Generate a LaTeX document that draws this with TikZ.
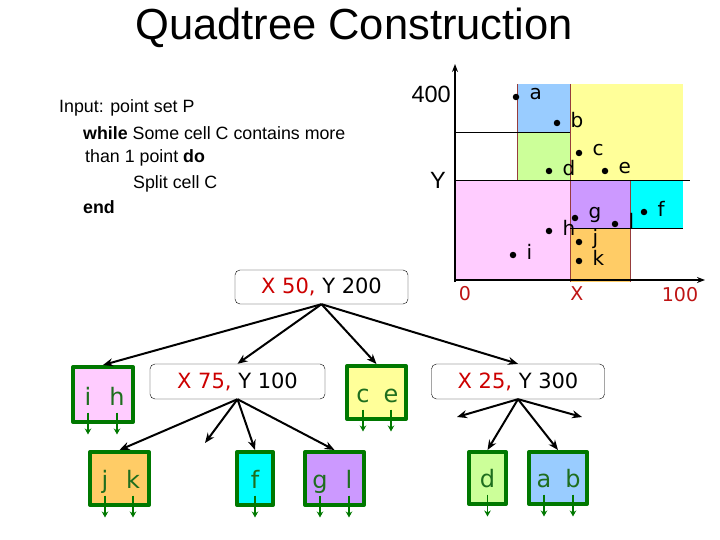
\documentclass[tikz,border=0pt]{standalone}
\usepackage{fontspec}
\setmainfont{Liberation Sans}
\newfontfamily\verd{DejaVu Sans}
\usetikzlibrary{arrows.meta,positioning}

\definecolor{cellblue}{HTML}{99CCFF}
\definecolor{cellgreen}{HTML}{CCFF99}
\definecolor{cellyellow}{HTML}{FFFF99}
\definecolor{cellpink}{HTML}{FFCCFF}
\definecolor{cellpurple}{HTML}{CC99FF}
\definecolor{cellcyan}{HTML}{00FFFF}
\definecolor{cellorange}{HTML}{FFCC66}
\definecolor{cellline}{RGB}{150,60,60}
\definecolor{splitred}{RGB}{204,0,0}
\definecolor{axisred}{RGB}{190,20,20}
\definecolor{leafgreen}{RGB}{0,120,0}
\definecolor{lettergreen}{RGB}{30,110,30}

\begin{document}
\begin{tikzpicture}[x=1pt, y=-1pt, line join=round,
    pt/.style={circle, fill, inner sep=0pt, minimum size=6.5pt},
    ptlbl/.style={font=\verd\fontsize{20}{23}\selectfont, inner sep=0pt},
    axlbl/.style={font=\verd\fontsize{19}{22}\selectfont, text=axisred},
    split/.style={draw, thin, rounded corners=5pt, minimum width=173pt, minimum height=34pt,
      inner sep=0pt, font=\verd\fontsize{21}{25}\selectfont},
    leaf/.style={draw=leafgreen, line width=4pt, minimum width=59pt, minimum height=53pt, inner sep=0pt},
    ltr/.style={text=lettergreen, font=\verd\fontsize{24}{28}\selectfont, inner sep=0pt, anchor=base},
    edge/.style={-{Stealth[length=10pt,width=8pt]}, line width=2pt},
    stub/.style={-{Stealth[length=6pt,width=6.5pt]}, leafgreen, line width=1.8pt},
    code/.style={anchor=base west, inner sep=0pt, font=\fontsize{17.8}{21}\selectfont}]

  \useasboundingbox (0,0) rectangle (720,540);

  \node (title) at (354,28) {\fontsize{43.5}{50}\selectfont Quadtree Construction};

  % pseudo code
  \node[code] (l1) at (59,113) {Input: point set P};
  \node[code] (l2) at (83,140) {\textbf{while} Some cell C contains more};
  \node[code] (l3) at (85,163) {than 1 point \textbf{do}};
  \node[code] (l4) at (133,189) {Split cell C};
  \node[code] (l5) at (83,214) {\textbf{end}};

  % cells
  \fill[cellblue] (517,84) rectangle (570,132);
  \fill[cellgreen] (517,132) rectangle (570,180);
  \fill[cellyellow] (570,84) rectangle (683,180);
  \fill[cellpink] (455,180) rectangle (570,280);
  \fill[cellpurple] (570,180) rectangle (630,228);
  \fill[cellcyan] (630,180) rectangle (683,228);
  \fill[cellorange] (570,228) rectangle (630,282);
  \draw[cellline, thin] (517,84) -- (517,180) (570,84) -- (570,282) (630,180) -- (630,282);
  \draw[thin] (455,132) -- (570,132) (455,180) -- (690,180) (570,228) -- (683,228);

  % axes
  \draw[-{Stealth[length=8pt,width=6pt]}, line width=1.8pt] (455,282) -- (455,64);
  \draw[-{Stealth[length=8pt,width=6pt]}, line width=1.8pt] (455,280) -- (705,280);
  \node[anchor=east, inner sep=0pt, font=\fontsize{23.5}{26}\selectfont] (ymax) at (451,94) {400};
  \node[font=\fontsize{23.5}{26}\selectfont] (ylbl) at (438,180) {Y};
  \node[axlbl] (x0) at (465,294) {0};
  \node[axlbl] (xlbl) at (577,294) {X};
  \node[axlbl] (xmax) at (680,295) {100};

  \foreach \p/\x/\y in {a/516/97, b/557/123, c/579/153, d/549/171, e/605/171, f/644/212,
      g/575/218, l/615/224, h/549/231, j/579/242, k/579/261, i/513/255} {
    \node[pt] (\p) at (\x,\y) {};
    \node[ptlbl, right=10pt of \p, yshift=3pt] (\p lbl) {\p};
  }

  % tree
  \node[split] (root) at (321.5,287) {\textcolor{splitred}{X 50,} Y 200};
  \node[split, minimum width=175pt, minimum height=35pt] (sx) at (237.5,381.5) {\textcolor{splitred}{X 75,} Y 100};
  \node[split, minimum height=35pt] (sy) at (518,381.5) {\textcolor{splitred}{X 25,} Y 300};

  \node[leaf, fill=cellpink, minimum width=60pt, minimum height=55pt] (ih) at (103,394.5) {};
  \node[leaf, fill=cellyellow] (ce) at (376.5,392.5) {};
  \node[leaf, fill=cellorange] (jk) at (119.5,478.5) {};
  \node[leaf, fill=cellcyan, minimum width=36pt] (fl) at (255,478.5) {};
  \node[leaf, fill=cellgreen, minimum width=37pt, minimum height=52pt] (dl) at (487.5,478) {};
  \node[leaf, fill=cellpurple] (gl) at (334.5,478.5) {};
  \node[leaf, fill=cellblue, minimum width=58pt, minimum height=52pt] (ab) at (558,478) {};

  \node[ltr] (ti) at ([xshift=-15pt, yshift=-10.5pt]ih.center) {i};
  \node[ltr] (th) at ([xshift=14pt, yshift=-10.5pt]ih.center) {h};
  \node[ltr] (tc) at ([xshift=-13.5pt, yshift=-9.5pt]ce.center) {c};
  \node[ltr] (te) at ([xshift=14.5pt, yshift=-9.5pt]ce.center) {e};
  \node[ltr] (tj) at ([xshift=-14.5pt, yshift=-9.5pt]jk.center) {j};
  \node[ltr] (tk) at ([xshift=13.5pt, yshift=-9.5pt]jk.center) {k};
  \node[ltr] (tf) at ([yshift=-9.5pt]fl.center) {f};
  \node[ltr] (tg) at ([xshift=-14.5pt, yshift=-9.5pt]gl.center) {g};
  \node[ltr] (tl) at ([xshift=14.5pt, yshift=-9.5pt]gl.center) {l};
  \node[ltr] (td) at ([yshift=-9pt]dl.center) {d};
  \node[ltr] (ta) at ([xshift=-14pt, yshift=-9pt]ab.center) {a};
  \node[ltr] (tb) at ([xshift=15pt, yshift=-9pt]ab.center) {b};

  \foreach \t in {ti,th,tc,te,tj,tk,tf,tg,tl,td,ta,tb}
    \draw[stub] ([yshift=-7.5pt]\t.base) -- ++(0,22);

  \coordinate (sxe) at (205,443);
  \coordinate (sye1) at (457,417);
  \coordinate (sye2) at (582,417);

  \draw[edge] (root.south) -- (ih.north);
  \draw[edge] (root.south) -- (sx.north);
  \draw[edge] (root.south) -- (ce.north);
  \draw[edge] (root.south) -- (sy.north);
  \draw[edge] (sx.south) -- (jk.north);
  \draw[edge] (sx.south) -- (sxe);
  \draw[edge] (sx.south) -- (fl.north);
  \draw[edge] (sx.south) -- (gl.north);
  \draw[edge] (sy.south) -- (sye1);
  \draw[edge] (sy.south) -- (sye2);
  \draw[edge] (sy.south) -- (dl.north);
  \draw[edge] (sy.south) -- (ab.north);
\end{tikzpicture}
\end{document}
